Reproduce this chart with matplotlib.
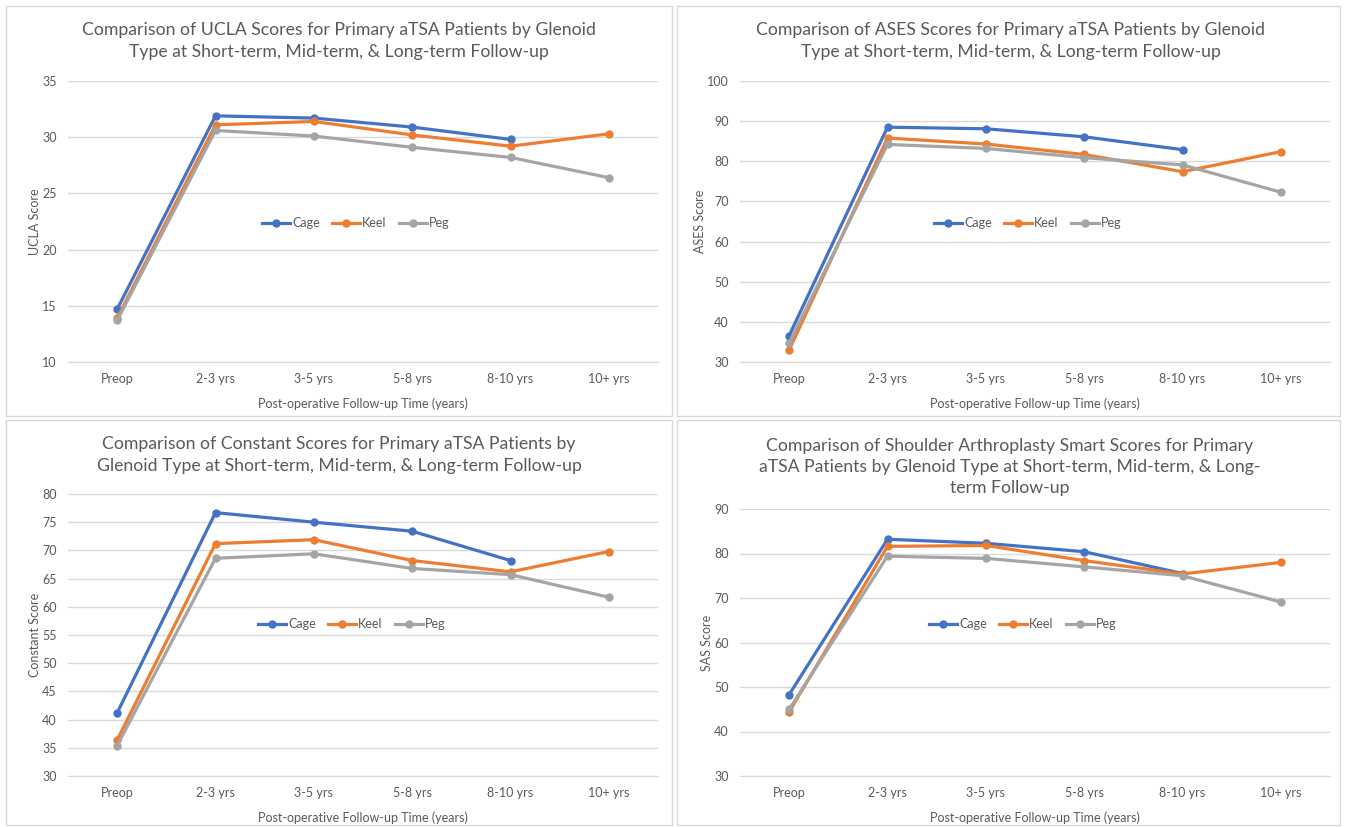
import numpy as np
import matplotlib
matplotlib.use("Agg")
import matplotlib.pyplot as plt
from matplotlib.patches import Rectangle

plt.rcParams['font.family'] = ['Lato', 'DejaVu Sans']

cats = ['Preop', '2-3 yrs', '3-5 yrs', '5-8 yrs', '8-10 yrs', '10+ yrs']
groups = ['Cage', 'Keel', 'Peg']
cols = ['#4472C4', '#ED7D31', '#A5A5A5']

# UCLA
ucla_cage = [14.7, 31.9, 31.7, 30.9, 29.8, np.nan]
ucla_keel = [13.9, 31.1, 31.4, 30.2, 29.2, 30.3]
ucla_peg = [13.7, 30.6, 30.1, 29.1, 28.2, 26.4]
# ASES
ases_cage = [36.6, 88.5, 88.1, 86.1, 82.9, np.nan]
ases_keel = [33.0, 85.8, 84.3, 81.7, 77.4, 82.4]
ases_peg = [34.8, 84.2, 83.2, 80.9, 79.1, 72.3]
# Constant
const_cage = [41.2, 76.7, 75.0, 73.4, 68.2, np.nan]
const_keel = [36.4, 71.2, 71.9, 68.2, 66.2, 69.8]
const_peg = [35.4, 68.6, 69.4, 66.8, 65.7, 61.7]
# SAS
sas_cage = [48.3, 83.2, 82.3, 80.4, 75.5, np.nan]
sas_keel = [44.4, 81.6, 81.8, 78.4, 75.4, 78.0]
sas_peg = [45.0, 79.4, 78.9, 77.0, 75.0, 69.1]

W, H = 1346, 827
fig = plt.figure(figsize=(W / 100, H / 100), dpi=100)
txt = '#595959'

def fx(px):
    return px / W

def fy(py):
    return 1 - py / H

# chart borders
for (x0, y0, x1, y1) in [(6, 6, 672, 416), (677, 6, 1340, 416),
                         (6, 420, 672, 825), (677, 420, 1340, 825)]:
    fig.patches.append(Rectangle((fx(x0), fy(y1)), fx(x1 - x0), (y1 - y0) / H,
                                 transform=fig.transFigure, fill=False,
                                 edgecolor='#D9D9D9', lw=1))

panels = [
    dict(box=(68, 81, 658, 362), ylim=(10, 35), step=5, ylabel='UCLA Score',
         data=[ucla_cage, ucla_keel, ucla_peg], tx=339, ty=41,
         title='Comparison of UCLA Scores for Primary aTSA Patients by Glenoid\nType at Short-term, Mid-term, & Long-term Follow-up',
         leg=(356, 223)),
    dict(box=(740, 81, 1330, 362), ylim=(30, 100), step=10, ylabel='ASES Score',
         data=[ases_cage, ases_keel, ases_peg], tx=1011, ty=41,
         title='Comparison of ASES Scores for Primary aTSA Patients by Glenoid\nType at Short-term, Mid-term, & Long-term Follow-up',
         leg=(1028, 223)),
    dict(box=(68, 494, 658, 776), ylim=(30, 80), step=5, ylabel='Constant Score',
         data=[const_cage, const_keel, const_peg], tx=339, ty=455,
         title='Comparison of Constant Scores for Primary aTSA Patients by\nGlenoid Type at Short-term, Mid-term, & Long-term Follow-up',
         leg=(352, 624)),
    dict(box=(740, 509, 1330, 776), ylim=(30, 90), step=10, ylabel='SAS Score',
         data=[sas_cage, sas_keel, sas_peg], tx=1010, ty=467,
         title='Comparison of Shoulder Arthroplasty Smart Scores for Primary\naTSA Patients by Glenoid Type at Short-term, Mid-term, & Long-\nterm Follow-up',
         leg=(1023, 624)),
]

x = np.arange(len(cats))
for p in panels:
    l, t, r, b = p['box']
    ax = fig.add_axes([fx(l), fy(b), fx(r - l), (b - t) / H])
    for vals, g, c in zip(p['data'], groups, cols):
        ax.plot(x, vals, color=c, lw=2.3, marker='o', ms=5, label=g, zorder=3)
    ax.set_xlim(-0.5, len(cats) - 0.5)
    ax.set_ylim(*p['ylim'])
    ax.set_yticks(np.arange(p['ylim'][0], p['ylim'][1] + 1, p['step']))
    ax.set_xticks(x)
    ax.set_xticklabels(cats)
    ax.grid(axis='y', color='#D9D9D9', lw=1)
    ax.set_axisbelow(True)
    for s in ax.spines.values():
        s.set_visible(False)
    ax.spines['bottom'].set_visible(True)
    ax.spines['bottom'].set_color('#D9D9D9')
    ax.tick_params(length=0, labelsize=9, colors=txt, pad=8)
    ax.set_ylabel(p['ylabel'], fontsize=9, color=txt, labelpad=1)
    ax.set_xlabel('Post-operative Follow-up Time (years)', fontsize=9, color=txt, labelpad=9)
    lx, ly = p['leg']
    ax.legend(loc='center', bbox_to_anchor=((lx - l) / (r - l), (b - ly) / (b - t)),
              ncol=3, frameon=False, fontsize=9, handlelength=2.2, handletextpad=0.2,
              columnspacing=1.0, labelcolor=txt)
    fig.text(fx(p['tx']), fy(p['ty']), p['title'], ha='center', va='center',
             fontsize=12.7, color=txt, linespacing=1.42)

fig.savefig('out.png', dpi=100)
